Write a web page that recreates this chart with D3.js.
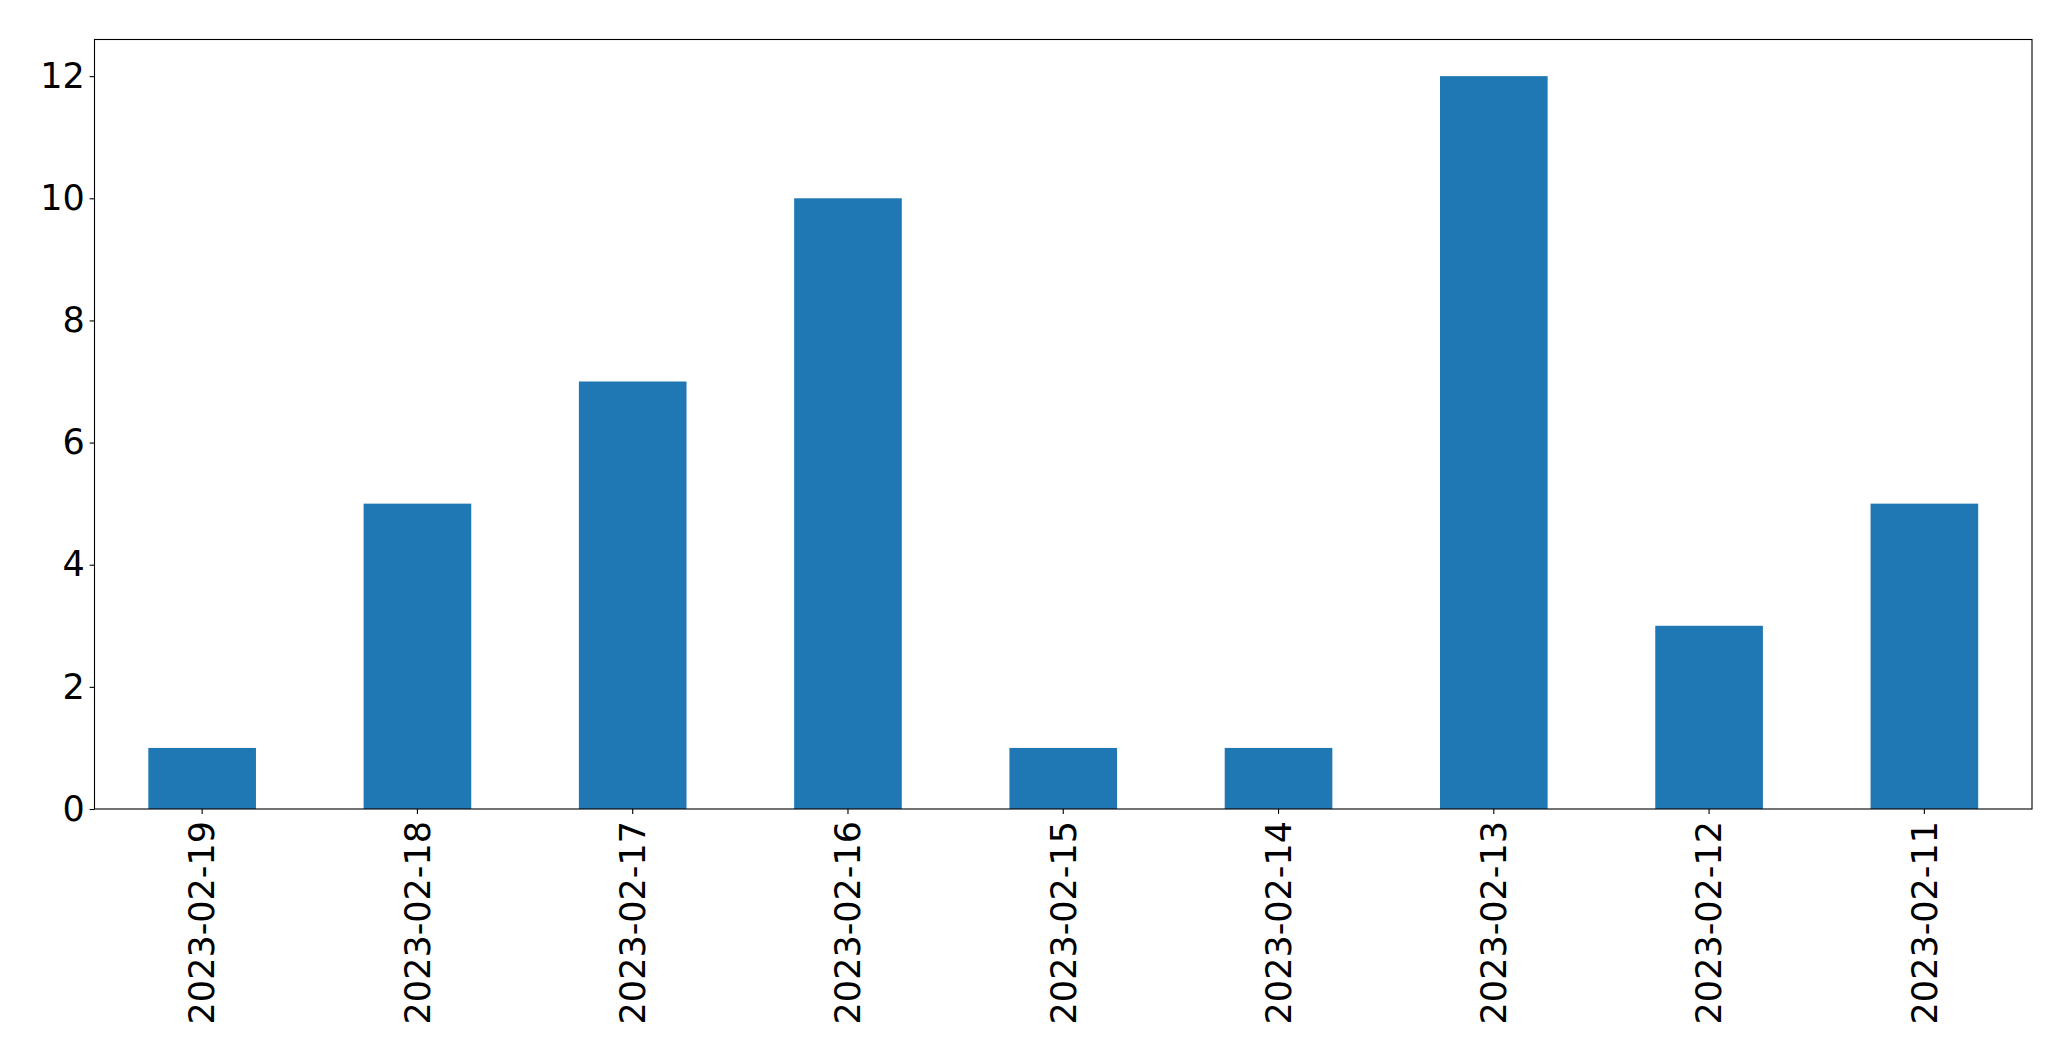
<!DOCTYPE html>
<html>
<head>
<meta charset="utf-8">
<script src="https://cdn.jsdelivr.net/npm/d3@7"></script>
<style>
  html, body { margin: 0; padding: 0; background: #fff; }
  svg { display: block; }
  text { font-family: "DejaVu Sans", sans-serif; }
</style>
</head>
<body>
<script>
const categories = ["2023-02-19","2023-02-18","2023-02-17","2023-02-16","2023-02-15","2023-02-14","2023-02-13","2023-02-12","2023-02-11"];
const values = [1, 5, 7, 10, 1, 1, 12, 3, 5];
const yTicks = [0, 2, 4, 6, 8, 10, 12];

const W = 2071, H = 1061;
const margin = {left: 94.5, right: W - 2032, top: 39.5, bottom: H - 809};
const fontSize = 35;

const svg = d3.select("body").append("svg").attr("width", W).attr("height", H);

const x = d3.scaleBand().domain(categories)
  .range([margin.left, W - margin.right])
  .paddingInner(0.5).paddingOuter(0.25);
const y = d3.scaleLinear().domain([0, 12.6]).range([H - margin.bottom, margin.top]);

svg.append("g").selectAll("rect").data(values).join("rect")
  .attr("x", (d, i) => x(categories[i]))
  .attr("width", x.bandwidth())
  .attr("y", d => y(d))
  .attr("height", d => y(0) - y(d))
  .attr("fill", "#1f77b4");

const yAxis = svg.append("g")
  .attr("transform", `translate(${margin.left},0)`)
  .call(d3.axisLeft(y).tickValues(yTicks).tickFormat(d3.format("d")).tickSize(4.9).tickPadding(4.9));
yAxis.select(".domain").remove();
yAxis.selectAll("line").attr("stroke", "#000").attr("stroke-width", 1.1);
yAxis.selectAll("text").attr("font-size", fontSize).attr("fill", "#000")
  .attr("font-family", "DejaVu Sans");

const xAxis = svg.append("g")
  .attr("transform", `translate(0,${H - margin.bottom})`)
  .call(d3.axisBottom(x).tickSize(4.9).tickPadding(4.9));
xAxis.select(".domain").remove();
xAxis.selectAll("line").attr("stroke", "#000").attr("stroke-width", 1.1);
xAxis.selectAll("text")
  .attr("font-size", fontSize).attr("fill", "#000").attr("font-family", "DejaVu Sans")
  .attr("transform", "rotate(-90)")
  .attr("text-anchor", "end")
  .attr("x", -12)
  .attr("y", 0)
  .attr("dy", "0.35em");

// frame
svg.append("rect")
  .attr("x", margin.left).attr("y", margin.top)
  .attr("width", W - margin.right - margin.left)
  .attr("height", H - margin.bottom - margin.top)
  .attr("fill", "none").attr("stroke", "#000").attr("stroke-width", 1.1);
</script>
</body>
</html>
